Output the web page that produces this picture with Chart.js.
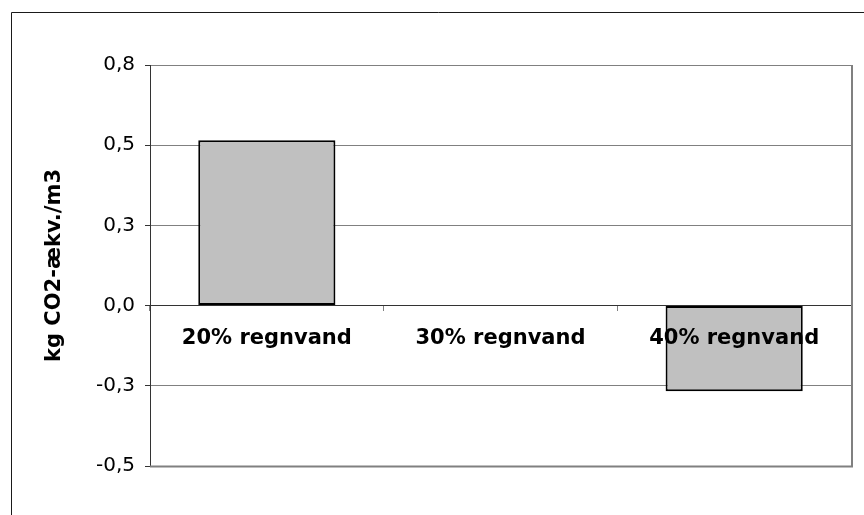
<!DOCTYPE html>
<html>
<head>
<meta charset="utf-8">
<script src="https://cdn.jsdelivr.net/npm/chart.js@4/dist/chart.umd.min.js"></script>
<style>
  html, body { margin: 0; padding: 0; background: #ffffff; }
  #wrap { width: 864px; height: 515px; }
</style>
</head>
<body>
<div id="wrap"><canvas id="c" width="864" height="515"></canvas></div>
<script>
// Rainwater share scenarios and their climate effect
const categories = ['20% regnvand', '30% regnvand', '40% regnvand'];
const co2Values = [0.55, 0, -0.285];

// Value axis: six evenly spaced gridlines, labelled to one decimal
const yTickValues = [-0.5333, -0.2667, 0, 0.2667, 0.5333, 0.8];
const yTickLabels = ['-0,5', '-0,3', '0,0', '0,3', '0,5', '0,8'];
const yTitle = 'kg CO2-ækv./m3';

const FONT = "'DejaVu Sans', Verdana, sans-serif";

// Outer chart frame plus the grey right/bottom edge of the plot area
const framePlugin = {
  id: 'frame',
  beforeDraw(chart) {
    const ctx = chart.ctx;
    ctx.save();
    ctx.fillStyle = '#ffffff';
    ctx.fillRect(0, 0, chart.width, chart.height);
    ctx.strokeStyle = '#1a1a1a';
    ctx.lineWidth = 1;
    ctx.beginPath();
    ctx.moveTo(11.5, chart.height + 2);
    ctx.lineTo(11.5, 12.5);
    ctx.lineTo(chart.width + 2, 12.5);
    ctx.stroke();
    ctx.restore();
  },
  afterDraw(chart) {
    const { ctx, chartArea: a } = chart;
    ctx.save();
    ctx.strokeStyle = '#808080';
    ctx.lineWidth = 2;
    ctx.beginPath();
    ctx.moveTo(a.left, a.bottom + 0.5);
    ctx.lineTo(a.right + 1, a.bottom + 0.5);
    ctx.lineTo(a.right + 1, a.top);
    ctx.stroke();
    ctx.restore();
  }
};

new Chart(document.getElementById('c'), {
  type: 'bar',
  data: {
    labels: categories,
    datasets: [{
      data: co2Values,
      backgroundColor: '#c0c0c0',
      borderColor: '#000000',
      borderWidth: 2,
      borderSkipped: false,
      barPercentage: 0.587,
      categoryPercentage: 1
    }]
  },
  options: {
    responsive: false,
    devicePixelRatio: 1,
    animation: false,
    layout: { padding: { left: 0, top: 65, right: 13, bottom: 49 } },
    plugins: {
      legend: { display: false },
      tooltip: { enabled: false }
    },
    scales: {
      x: {
        type: 'category',
        position: { y: 0 },
        offset: true,
        grid: {
          offset: true,
          drawOnChartArea: false,
          drawTicks: true,
          tickLength: 5,
          color: '#808080'
        },
        border: { display: true, color: '#333333', width: 1, z: 1 },
        ticks: {
          z: 1,
          color: '#000000',
          padding: 15,
          maxRotation: 0,
          autoSkip: false,
          font: { family: FONT, size: 21, weight: 'bold' }
        }
      },
      y: {
        position: 'left',
        min: yTickValues[0],
        max: yTickValues[yTickValues.length - 1],
        afterFit(scale) { scale.width = 150; },
        afterBuildTicks(scale) {
          scale.ticks = yTickValues.map(v => ({ value: v }));
        },
        grid: {
          color: '#808080',
          lineWidth: 1,
          tickLength: 5,
          tickColor: '#333333'
        },
        border: { display: true, color: '#333333', width: 1 },
        ticks: {
          color: '#000000',
          padding: 10,
          font: { family: FONT, size: 20 },
          callback: (v, i) => yTickLabels[i]
        },
        title: {
          display: true,
          text: yTitle,
          color: '#000000',
          padding: { top: 42, bottom: 0 },
          font: { family: FONT, size: 21, weight: 'bold' }
        }
      }
    }
  },
  plugins: [framePlugin]
});
</script>
</body>
</html>
